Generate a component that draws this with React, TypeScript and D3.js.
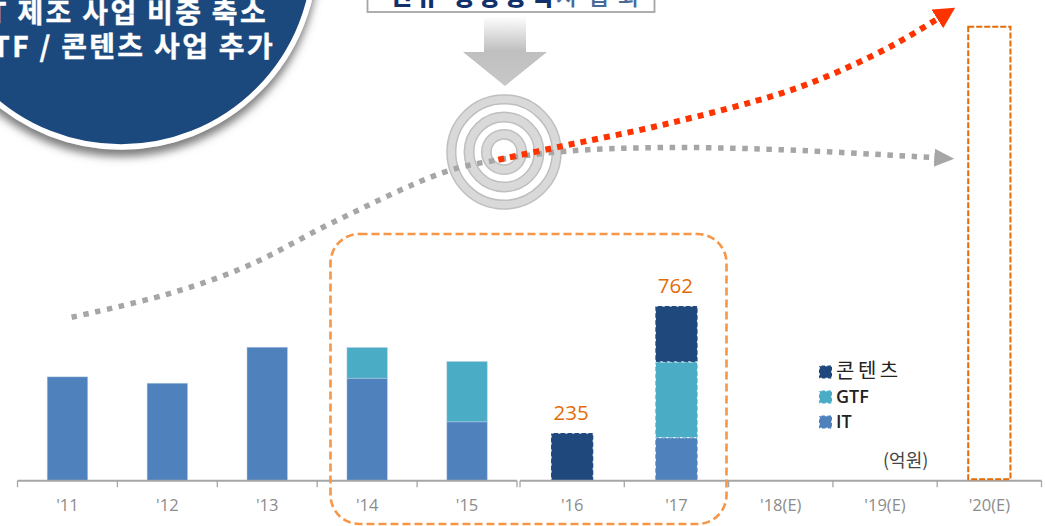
import React from "react";
import * as d3 from "d3";

const W = 1045, H = 526;
const catsA = ["'11", "'12", "'13", "'14", "'15"];
const catsB = ["'16", "'17", "'18(E)", "'19(E)", "'20(E)"];
const itVals = [453, 425, 582, 447, 257, 0, 188, 0, 0, 0];
const gtfVals = [0, 0, 0, 134, 263, 0, 330, 0, 0, 0];
const contentVals = [0, 0, 0, 0, 0, 208, 244, 0, 0, 0];
const dashedCats = ["'16", "'17"];
const totalLabels: [string, string][] = [["'16", "235"], ["'17", "762"]];
const targetCat = "'20(E)";
const targetValue = 1980;
const legendNames = ["콘텐츠", "GTF", "IT"];
const legendColors = ["#1f497d", "#4bacc6", "#4f81bd"];
const unitLabel = "(억원)";
const circleLines = ["IT 제조 사업 비중 축소", "GTF / 콘텐츠 사업 추가"];
const boxBold = "신규 성장동력";
const boxLight = "사업화";
const greyYears = [2011.04, 2011.97, 2012.75, 2013.59, 2014.67, 2015.16, 2015.84, 2016.79, 2017.96, 2019.47];
const greyVals = [713, 813, 935, 1126, 1344, 1396, 1436, 1453, 1444, 1409];
const redYears = [2015.21, 2015.81, 2016.86, 2017.99, 2018.55, 2019.09, 2019.5];
const redVals = [1400, 1457, 1557, 1692, 1788, 1905, 2014];
const ringRadii = [57, 48.3, 39.7, 30.3, 22.3, 13];

const baseY = 480.7;
const xA = d3.scaleBand<string>().domain(catsA).range([17.5, 517]);
const xB = d3.scaleBand<string>().domain(catsB).range([520, 1041.5]);
const y = d3.scaleLinear().domain([0, 762]).range([baseY, 306]);
const xTrend = d3.scaleLinear().domain([2011, 2020]).range([67.5, 988.5]);
const allCats = [...catsA, ...catsB];
const xOf = (c: string) => (catsA.includes(c) ? xA : xB);
const bw = (c: string) => xOf(c).bandwidth() * 0.405;
const cx = (c: string) => (xOf(c)(c) as number) + xOf(c).bandwidth() / 2;

const rows = allCats.map((c, i) => ({ cat: c, it: itVals[i], gtf: gtfVals[i], content: contentVals[i] }));
const series = d3.stack<any>().keys(["it", "gtf", "content"])(rows);
const seriesColors = [legendColors[2], legendColors[1], legendColors[0]];

const trend = d3.line<[number, number]>().x((d) => xTrend(d[0])).y((d) => y(d[1])).curve(d3.curveCatmullRom.alpha(0.5));
const greyPath = trend(greyYears.map((v, i) => [v, greyVals[i]] as [number, number])) as string;
const redPath = trend(redYears.map((v, i) => [v, redVals[i]] as [number, number])) as string;

const sans = "'Open Sans', 'Liberation Sans', sans-serif";
const kr = "'Noto Sans CJK KR', sans-serif";

export default function App() {
  const axisPart = (scale: d3.ScaleBand<string>, cats: string[]) => {
    const [a, b] = scale.range();
    const ticks = [...cats.map((c) => scale(c) as number), b];
    return (
      <g stroke="#a6a6a6" fill="none">
        <line x1={a} x2={b} y1={baseY} y2={baseY} strokeWidth={2} />
        {ticks.map((t) => (
          <line key={t} x1={t} x2={t} y1={baseY} y2={baseY + 6.5} strokeWidth={1.3} />
        ))}
      </g>
    );
  };
  const tx = cx(targetCat);
  const tw = bw(targetCat);
  return (
    <svg width={W} height={H} viewBox={`0 0 ${W} ${H}`} style={{ position: "absolute", left: 0, top: 0, background: "#fff" }}>
      <defs>
        <filter id="sh" x="-20%" y="-20%" width="140%" height="140%">
          <feDropShadow dx="0" dy="7" stdDeviation="4" floodColor="#666" floodOpacity="0.85" />
        </filter>
        <linearGradient id="arrowG" gradientUnits="userSpaceOnUse" x1="0" x2="0" y1="16" y2="86">
          <stop offset="0" stopColor="#ffffff" />
          <stop offset="0.5" stopColor="#bfbfbf" />
          <stop offset="1" stopColor="#c8c8c8" />
        </linearGradient>
        <marker id="mGrey" markerUnits="userSpaceOnUse" markerWidth="24" markerHeight="24" refX="0" refY="9" orient="auto">
          <path d="M0,0L20,9L0,18Z" fill="#a6a6a6" />
        </marker>
        <marker id="mRed" markerUnits="userSpaceOnUse" markerWidth="28" markerHeight="28" refX="0" refY="11" orient="auto">
          <path d="M0,0L21,11L0,22Z" fill="#ff3300" />
        </marker>
      </defs>

      <circle cx={121} cy={-47} r={194} fill="#1f497d" stroke="#fff" strokeWidth={5.5} filter="url(#sh)" />
      {circleLines.map((t, i) => (
        <text key={t} x={i === 0 ? 268 : 275} y={i === 0 ? 23 : 57} textAnchor="end" fill="#fff" stroke="#fff" strokeWidth={0.4} fontFamily={kr} fontWeight={700} fontSize={28} letterSpacing={2.3}>
          {t}
        </text>
      ))}

      <rect x={367.5} y={-30} width={287} height={42} fill="#fff" stroke="#a6a6a6" strokeWidth={1.8} />
      <text x={390} y={5} fontFamily={kr} fontSize={24} fontWeight={800} fill="#12306a" textLength={163}>{boxBold}</text>
      <text x={556} y={5} fontFamily={kr} fontSize={24} fontWeight={500} fill="#4a6a9a" textLength={84}>{boxLight}</text>

      <path d="M484,16H526V52H547L505,86L463,52H484Z" fill="url(#arrowG)" />

      {ringRadii.map((r, i) => (
        <circle key={r} cx={504} cy={152} r={r} fill={i % 2 === 0 ? "#d9d9d9" : "#fff"} stroke="#bfbfbf" strokeWidth={1.5} />
      ))}

      <path d={greyPath} fill="none" stroke="#a6a6a6" strokeWidth={5.5} strokeDasharray="5.5 6.6" markerEnd="url(#mGrey)" />
      <path d={redPath} fill="none" stroke="#ff3300" strokeWidth={6} strokeDasharray="6 6" markerEnd="url(#mRed)" />

      {series.map((s, si) => (
        <g key={si}>
          {s.map((d: any) => {
            const c = d.data.cat as string;
            if (d[1] === d[0]) return null;
            const dashed = dashedCats.includes(c);
            return (
              <rect
                key={c}
                x={cx(c) - bw(c) / 2}
                y={y(d[1])}
                width={bw(c)}
                height={y(d[0]) - y(d[1])}
                fill={seriesColors[si]}
                stroke={dashed ? "#ffffff" : "#b9cde5"}
                strokeOpacity={dashed ? 0.85 : 0.55}
                strokeWidth={dashed ? 1.3 : 0.8}
                strokeDasharray={dashed ? "2.5 4.5" : undefined}
              />
            );
          })}
        </g>
      ))}

      {axisPart(xA, catsA)}
      {axisPart(xB, catsB)}

      {allCats.map((c) => (
        <text key={c} x={cx(c)} y={511} textAnchor="middle" fontFamily={sans} fontSize={16.5} fill="#8c8c8c">{c}</text>
      ))}

      {totalLabels.map(([c, t]) => {
        const i = allCats.indexOf(c);
        const top = y(series[2][i][1]);
        return (
          <text key={c} x={cx(c) - 1} y={top - 13} textAnchor="middle" fontFamily={sans} fontSize={20.5} fill="#e36c0a">{t}</text>
        );
      })}

      <rect x={tx - tw / 2} y={y(targetValue)} width={tw} height={y(0) - y(targetValue) - 1.5} fill="none" stroke="#e36c0a" strokeWidth={2} strokeDasharray="6 2" />

      <rect x={330.5} y={234} width={396} height={290} rx={29} fill="none" stroke="#f79646" strokeWidth={2.6} strokeDasharray="8 4" />

      {legendNames.map((n, i) => {
        const ly = 372 + i * 25;
        return (
          <g key={n}>
            <rect x={819} y={ly - 6.5} width={13} height={13} fill={legendColors[i]} stroke="#fff" strokeWidth={1.5} strokeDasharray="2.5 3.5" />
            <text x={836} y={ly + 6} fontFamily={i === 0 ? kr : sans} fontSize={i === 0 ? 20 : 18} fontWeight={i === 0 ? 400 : 600} letterSpacing={i === 0 ? 3.5 : 0} fill="#222">{n}</text>
          </g>
        );
      })}
      <text x={883} y={467} fontFamily={kr} fontSize={18} fill="#444">{unitLabel}</text>
    </svg>
  );
}
